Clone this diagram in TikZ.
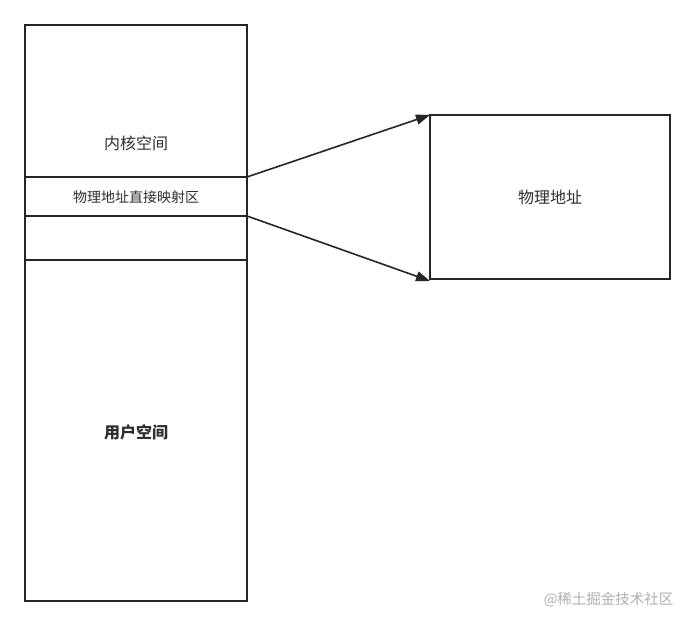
\documentclass[tikz,border=0pt]{standalone}
\usepackage{fontspec}
\setmainfont{Noto Sans CJK SC}
\usetikzlibrary{arrows.meta}
\definecolor{ln}{HTML}{262626}
\definecolor{tx}{HTML}{2E2E2E}
\definecolor{wm}{HTML}{B0B0B0}
\tikzset{
  seg/.style={draw=ln, line width=1.6pt, fill=white, inner sep=0pt, outer sep=0pt},
  lbl/.style={text=tx, font=\fontsize{16}{16}\selectfont},
  conn/.style={draw=ln, line width=1.6pt, -{Triangle[length=14pt,width=10pt]}}
}
\begin{document}
\begin{tikzpicture}[x=1pt,y=-1pt]
\useasboundingbox (0,0) rectangle (695,626);
\fill[white] (0,0) rectangle (695,626);
% left column
\draw[seg] (25,25) rectangle (247,601);
\draw[seg] (25,177) -- (247,177);
\draw[seg] (25,216) -- (247,216);
\draw[seg] (25,260) -- (247,260);
\coordinate (kTop) at (247,177);
\coordinate (kBot) at (247,216);
\node[lbl] (kernel) at (136,143) {内核空间};
\node[text=tx, font=\fontsize{14}{14}\selectfont] (direct) at (136,197) {物理地址直接映射区};
\node[lbl, font=\fontsize{16}{16}\selectfont\bfseries] (user) at (136,432) {用户空间};
% right box
\node[seg, minimum width=240pt, minimum height=164pt, anchor=north west] (phys) at (430,115) {};
\node[lbl] (physlbl) at (phys.center) {物理地址};
\draw[conn] (kTop) -- (phys.north west);
\draw[conn] (kBot) -- ([yshift=-2pt]phys.south west);
\node[text=wm, font=\fontsize{14.5}{14.5}\selectfont, anchor=east] (wmk) at (677,600) {@稀土掘金技术社区};
\end{tikzpicture}
\end{document}
